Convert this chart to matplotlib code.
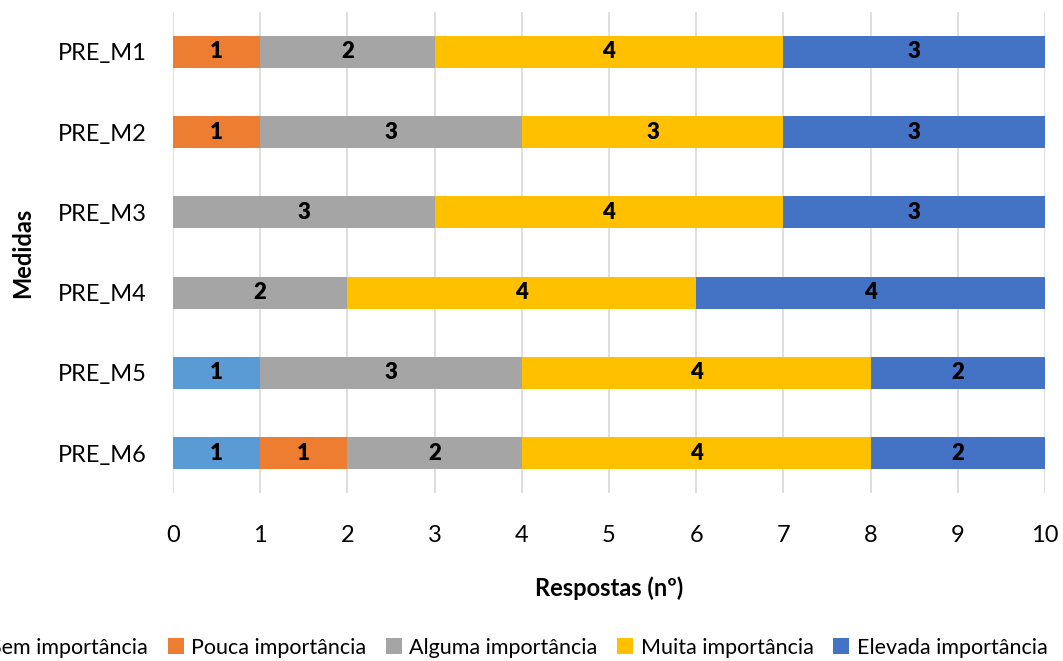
import matplotlib
matplotlib.use("Agg")
from matplotlib import pyplot as plt
import numpy as np

plt.rcParams['font.family'] = ['Lato', 'DejaVu Sans']

medidas = ["PRE_M1", "PRE_M2", "PRE_M3", "PRE_M4", "PRE_M5", "PRE_M6"]
categorias = ["Sem importância", "Pouca importância", "Alguma importância",
              "Muita importância", "Elevada importância"]
sem = [0, 0, 0, 0, 1, 1]
pouca = [1, 1, 0, 0, 0, 1]
alguma = [2, 3, 3, 2, 3, 2]
muita = [4, 3, 4, 4, 4, 4]
elevada = [3, 3, 3, 4, 2, 2]
cores = ["#5B9BD5", "#ED7D31", "#A5A5A5", "#FFC000", "#4472C4"]

fig = plt.figure(figsize=(10.63, 6.61), dpi=100)
ax = fig.add_axes([0.1627, 0.254, 0.8203, 0.728])

y = np.arange(len(medidas))
left = np.zeros(len(medidas))
for serie, nome, cor in zip([sem, pouca, alguma, muita, elevada], categorias, cores):
    vals = np.array(serie, dtype=float)
    bars = ax.barh(y, vals, left=left, height=0.4, color=cor, label=nome, zorder=2)
    labels = [str(int(v)) if v > 0 else "" for v in vals]
    ax.bar_label(bars, labels=labels, label_type="center", fontsize=16,
                 fontweight="heavy", color="black")
    left += vals

ax.set_xlim(0, 10)
ax.set_ylim(len(medidas) - 0.5, -0.5)
ax.set_yticks(y, labels=medidas)
ax.set_xticks(range(0, 11))
ax.tick_params(axis="both", length=0, labelsize=17)
ax.tick_params(axis="y", pad=19)
ax.tick_params(axis="x", pad=23)
for s in ax.spines.values():
    s.set_visible(False)
ax.grid(axis="x", color="#D9D9D9", linewidth=1.2, zorder=0)
ax.set_axisbelow(True)

ax.set_xlabel("Respostas (nº)", fontsize=17, fontweight="bold", labelpad=22)
ax.set_ylabel("Medidas", fontsize=17, fontweight="bold", labelpad=17)

fig.legend(loc="center", bbox_to_anchor=(0.477, 0.02), ncol=5, frameon=False,
           fontsize=15.5, handlelength=0.75, handleheight=0.75, columnspacing=0.9,
           handletextpad=0.35)

fig.savefig("out.png", dpi=100)
